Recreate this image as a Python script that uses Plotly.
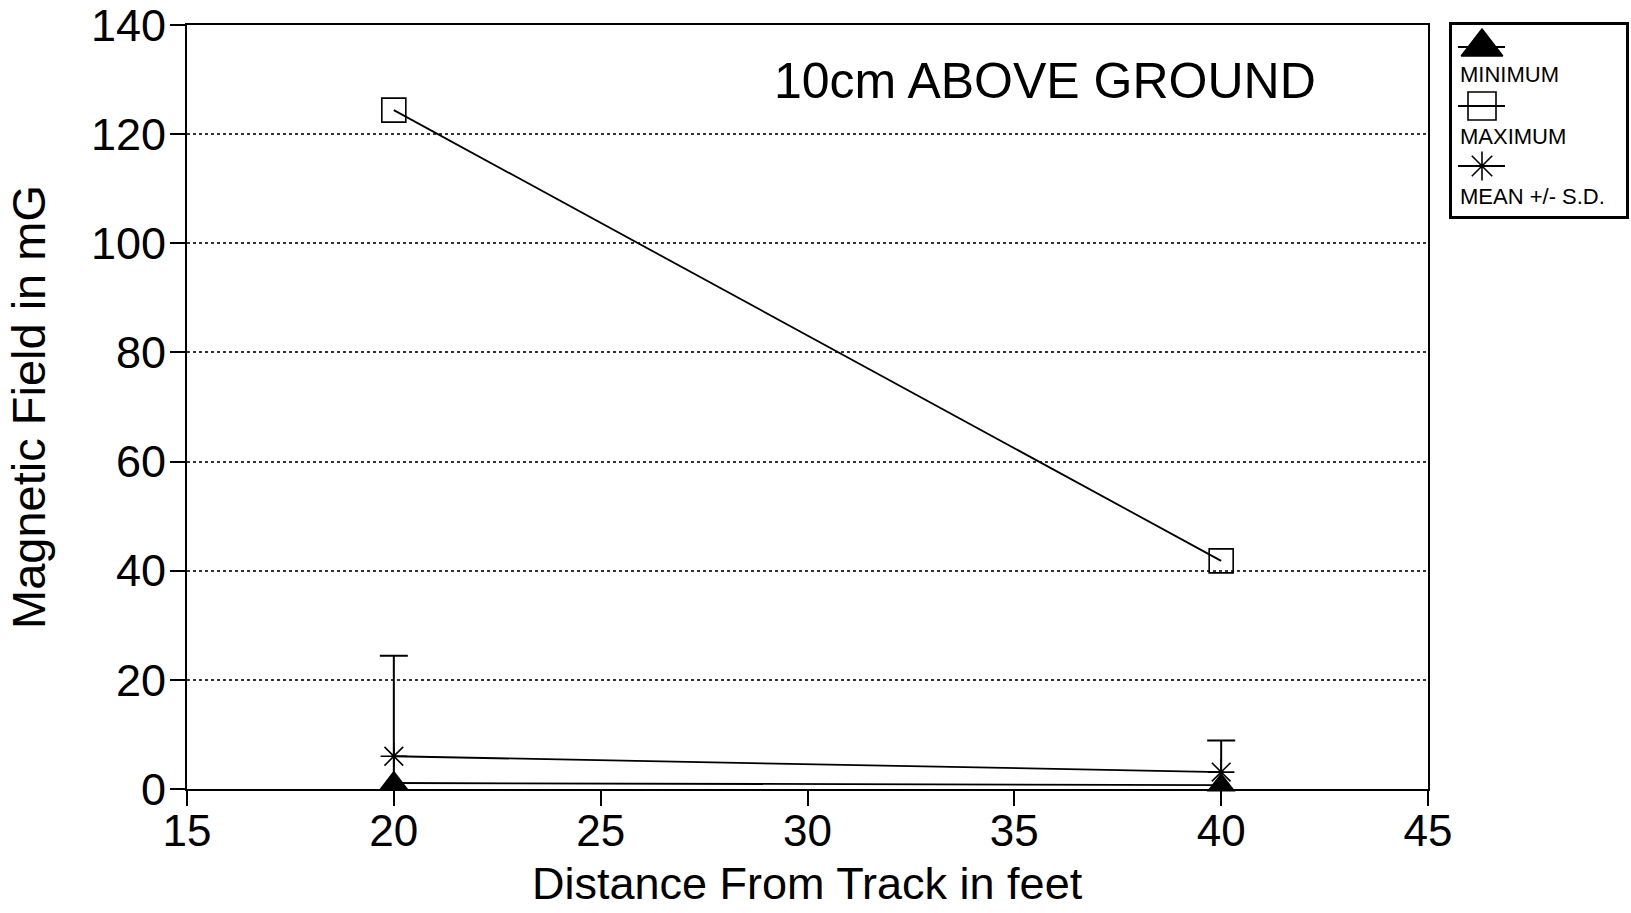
import plotly.graph_objects as go

# ---- data ----
distance_ft = [20, 40]
maximum_mG = [124.4, 41.8]
mean_mG = [6.0, 3.1]
sd_mG = [18.4, 5.8]
minimum_mG = [1.1, 0.7]

x_ticks = [15, 20, 25, 30, 35, 40, 45]
y_ticks = [0, 20, 40, 60, 80, 100, 120, 140]

series_names = ["MINIMUM", "MAXIMUM", "MEAN +/- S.D."]
x_title = "Distance From Track in feet"
y_title = "Magnetic Field in mG"

FONT = "Liberation Sans, Arial, Helvetica, sans-serif"
W, H = 1631, 913
ML, MR, MT, MB = 187, 2, 25, 124
PW = W - ML - MR
PH = H - MT - MB
MAIN_RIGHT = 1428
LEG_L, LEG_R, LEG_T, LEG_B = 1452, 1626, 25, 216

fig = go.Figure()

line_style = dict(color="black", width=1.8)

fig.add_trace(go.Scatter(
    x=distance_ft, y=maximum_mG, mode="lines+markers", name=series_names[1],
    line=line_style,
    marker=dict(symbol="square-open", size=24, color="black", line=dict(width=1.6)),
    cliponaxis=False, showlegend=False))

fig.add_trace(go.Scatter(
    x=distance_ft, y=mean_mG, mode="lines+markers", name=series_names[2],
    line=line_style,
    marker=dict(symbol="asterisk-open", size=22, color="black", line=dict(width=1.6, color="black")),
    error_y=dict(type="data", array=sd_mG, symmetric=True, color="black", thickness=2, width=14),
    cliponaxis=False, showlegend=False))

fig.add_trace(go.Scatter(
    x=distance_ft, y=minimum_mG, mode="lines+markers", name=series_names[0],
    line=line_style,
    marker=dict(symbol="triangle-up", size=25, color="black"),
    cliponaxis=False, showlegend=False))

# ---- custom legend drawn in a small side axis (pixel-like units) ----
leg_items = [
    dict(y=47, symbol="triangle-up", size=36, label_y=74),
    dict(y=106, symbol="square-open", size=28, label_y=136),
    dict(y=166, symbol="asterisk-open", size=24, label_y=196),
]
for name, it in zip(series_names, leg_items):
    fig.add_trace(go.Scatter(
        x=[1458, 1482, 1505], y=[it["y"]] * 3, mode="lines", xaxis="x2", yaxis="y2",
        line=dict(color="black", width=1.8), showlegend=False, hoverinfo="skip"))
    fig.add_trace(go.Scatter(
        x=[1482], y=[it["y"]], mode="markers", xaxis="x2", yaxis="y2",
        marker=dict(symbol=it["symbol"], size=it["size"], color="black",
                    line=dict(width=1.6, color="black")),
        showlegend=False, hoverinfo="skip", cliponaxis=False))
    fig.add_annotation(x=1458, y=it["label_y"], xref="x2", yref="y2", text=name,
                       showarrow=False, xanchor="left", yanchor="middle",
                       font=dict(family=FONT, size=22, color="black"))

fig.add_annotation(
    x=(1045 - ML) / PW, y=(MT + PH - 81) / PH, xref="paper", yref="paper",
    text="10cm ABOVE GROUND", showarrow=False, xanchor="center", yanchor="middle",
    font=dict(family=FONT, size=50, color="black"))

# x-axis title as an annotation so it can sit right at the bottom edge
fig.add_annotation(
    x=0.5, y=(MT + PH - 883) / PH, xref="x domain", yref="paper",
    text=x_title, showarrow=False, xanchor="center", yanchor="middle",
    font=dict(family=FONT, size=45, color="black"))

fig.update_layout(
    width=W, height=H, autosize=False,
    margin=dict(l=ML, r=MR, t=MT, b=MB, pad=0),
    paper_bgcolor="white", plot_bgcolor="white",
    font=dict(family=FONT, color="black"),
    xaxis=dict(
        domain=[0, (MAIN_RIGHT - ML) / PW], range=[15, 45], tickvals=x_ticks,
        showgrid=False, zeroline=False, showline=True, linecolor="black", linewidth=2,
        mirror=True, ticks="outside", ticklen=15, tickwidth=2, tickcolor="black",
        ticklabelstandoff=-13, automargin=False, ticklabeloverflow="allow",
        tickfont=dict(size=44, family=FONT, color="black"),
    ),
    yaxis=dict(
        range=[0, 140], tickvals=y_ticks,
        showgrid=True, gridcolor="#333", griddash="dot", gridwidth=1.5,
        zeroline=False, showline=True, linecolor="black", linewidth=2,
        mirror=True, ticks="outside", ticklen=15, tickwidth=2, tickcolor="black",
        ticklabelstandoff=-5, automargin=False, ticklabeloverflow="allow",
        tickfont=dict(size=45, family=FONT, color="black"),
        title=dict(text=y_title, font=dict(size=47, family=FONT, color="black"), standoff=30),
    ),
    xaxis2=dict(
        domain=[(LEG_L - ML) / PW, (LEG_R - ML) / PW], range=[LEG_L, LEG_R], anchor="y2",
        showgrid=False, zeroline=False, showticklabels=False, ticks="",
        showline=True, mirror=True, linecolor="black", linewidth=2.5, automargin=False,
    ),
    yaxis2=dict(
        domain=[(MT + PH - LEG_B) / PH, 1], range=[LEG_B, LEG_T], anchor="x2",
        showgrid=False, zeroline=False, showticklabels=False, ticks="",
        showline=True, mirror=True, linecolor="black", linewidth=2.5, automargin=False,
    ),
)

fig.write_html(
    "out.html",
    config={"responsive": False, "displayModeBar": False},
    post_script="document.body.style.margin='0';document.body.style.overflow='hidden';",
)
